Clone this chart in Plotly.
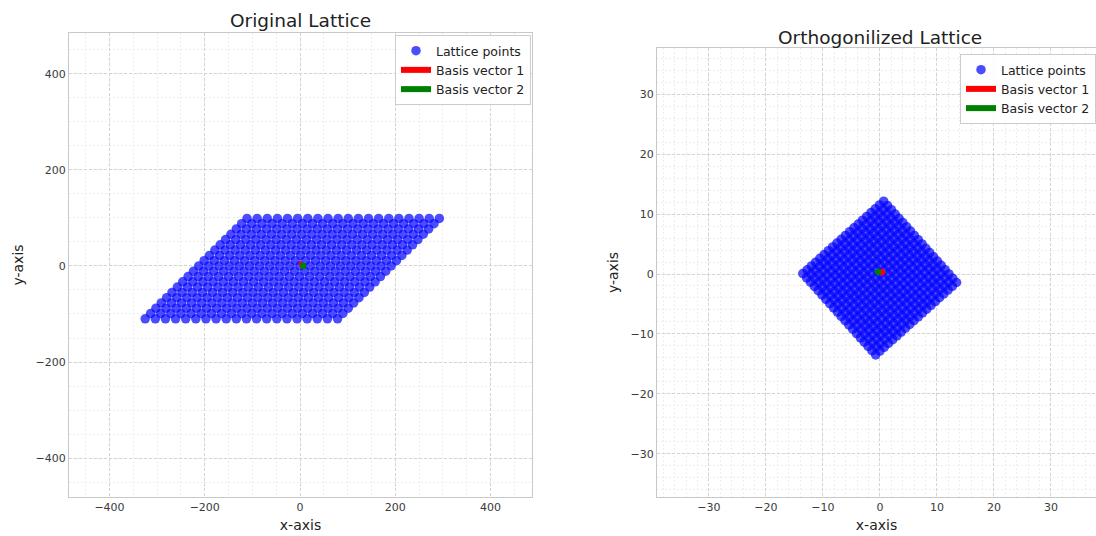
import numpy as np
import plotly.graph_objects as go

# Lattice coefficient range (both directions)
coef_range = list(range(-10, 10))

# Original basis vectors
orig_basis_1 = [11.25, 11.0]
orig_basis_2 = [21.25, 0.0]

# Orthogonalized basis vectors
orth_basis_1 = [0.747, 0.636]
orth_basis_2 = [-0.673, 0.714]

# Axis ticks
orig_ticks = [-400, -200, 0, 200, 400]
orth_ticks = [-30, -20, -10, 0, 10, 20, 30]


def lattice(b1, b2, coefs):
    pts = [(i * b1[0] + j * b2[0], i * b1[1] + j * b2[1]) for i in coefs for j in coefs]
    arr = np.array(pts)
    return arr[:, 0], arr[:, 1]


W, H = 1096, 536
FONT = "DejaVu Sans"
POINT_COLOR = "rgba(0,0,255,0.7)"

fig = go.Figure()

ox, oy = lattice(orig_basis_1, orig_basis_2, coef_range)
qx, qy = lattice(orth_basis_1, orth_basis_2, coef_range)

# Left panel: original lattice
fig.add_trace(go.Scatter(x=ox, y=oy, mode="markers", name="Lattice points",
                         marker=dict(size=9.5, color=POINT_COLOR, line=dict(width=0)),
                         xaxis="x", yaxis="y", legend="legend"))
fig.add_trace(go.Scatter(x=[0, orig_basis_1[0] * 0.6], y=[0, orig_basis_1[1] * 0.6], mode="lines",
                         name="Basis vector 1", line=dict(color="red", width=6),
                         xaxis="x", yaxis="y", legend="legend"))
fig.add_trace(go.Scatter(x=[0, orig_basis_2[0] * 0.6], y=[0, orig_basis_2[1] * 0.6], mode="lines",
                         name="Basis vector 2", line=dict(color="green", width=6),
                         xaxis="x", yaxis="y", legend="legend"))

# Right panel: orthogonalized lattice
fig.add_trace(go.Scatter(x=qx, y=qy, mode="markers", name="Lattice points",
                         marker=dict(size=9.5, color=POINT_COLOR, line=dict(width=0)),
                         xaxis="x2", yaxis="y2", legend="legend2"))
fig.add_trace(go.Scatter(x=[0, orth_basis_1[0]], y=[0, orth_basis_1[1]], mode="lines",
                         name="Basis vector 1", line=dict(color="red", width=6),
                         xaxis="x2", yaxis="y2", legend="legend2"))
fig.add_trace(go.Scatter(x=[0, orth_basis_2[0]], y=[0, orth_basis_2[1]], mode="lines",
                         name="Basis vector 2", line=dict(color="green", width=6),
                         xaxis="x2", yaxis="y2", legend="legend2"))


def axis_style(domain, rng, ticks, minor_step, title, anchor, standoff):
    return dict(
        domain=domain, range=rng, tickvals=ticks, anchor=anchor,
        showgrid=True, gridcolor="#d4d4d4", griddash="3px,2px", gridwidth=0.8,
        minor=dict(dtick=minor_step, showgrid=True, gridcolor="#ededed", griddash="2px,2px", gridwidth=0.7),
        zeroline=False, showline=True, mirror=True, linecolor="#c8c8c8", linewidth=1,
        ticks="", tickfont=dict(family=FONT, size=11, color="#3a3a3a"),
        title=dict(text=title, font=dict(family=FONT, size=14, color="#222"), standoff=standoff),
        automargin=False,
    )


fig.update_layout(
    width=W, height=H,
    margin=dict(l=0, r=0, t=0, b=0),
    paper_bgcolor="white", plot_bgcolor="white",
    font=dict(family=FONT),
    xaxis=axis_style([69 / W, 532 / W], [-485, 487], orig_ticks, 50, "x-axis", "y", 6),
    yaxis=axis_style([39 / H, 503 / H], [-481, 485], orig_ticks, 50, "y-axis", "x", 8),
    xaxis2=axis_style([657 / W, 1.0], [-39.1, 37.9], orth_ticks, 2, "x-axis", "y2", 6),
    yaxis2=axis_style([39 / H, 488 / H], [-37.2, 37.7], orth_ticks, 2, "y-axis", "x2", 8),
    legend=dict(x=531 / W, y=(H - 35) / H, xanchor="right", yanchor="top",
                bgcolor="rgba(255,255,255,0.85)", bordercolor="#cccccc", borderwidth=1,
                font=dict(family=FONT, size=12.5, color="#222"), itemwidth=30),
    legend2=dict(x=1.0, y=(H - 54) / H, xanchor="right", yanchor="top",
                 bgcolor="rgba(255,255,255,0.85)", bordercolor="#cccccc", borderwidth=1,
                 font=dict(family=FONT, size=12.5, color="#222"), itemwidth=30),
    annotations=[
        dict(text="Original Lattice", x=300.5 / W, y=(H - 20) / H, xref="paper", yref="paper",
             showarrow=False, xanchor="center", yanchor="middle",
             font=dict(family=FONT, size=18.5, color="#222")),
        dict(text="Orthogonilized Lattice", x=880 / W, y=(H - 37) / H, xref="paper", yref="paper",
             showarrow=False, xanchor="center", yanchor="middle",
             font=dict(family=FONT, size=18.5, color="#222")),
    ],
)

fig.write_html("out.html")
